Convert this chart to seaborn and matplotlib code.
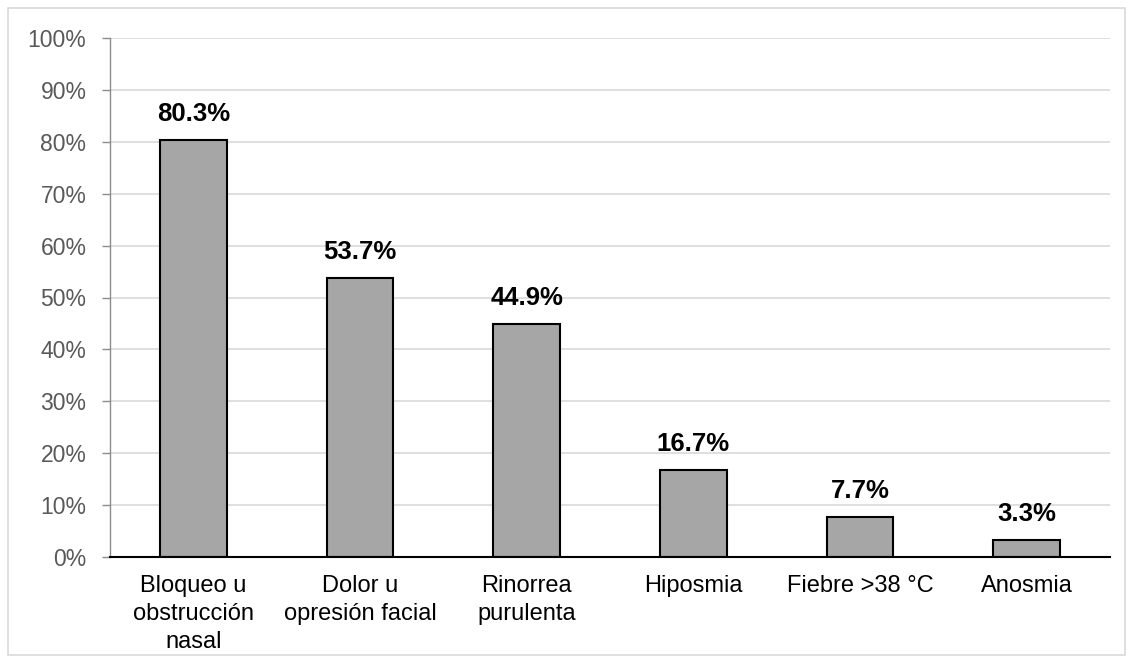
import matplotlib
matplotlib.use("Agg")
import matplotlib.pyplot as plt
import matplotlib.patches as patches
import numpy as np
import pandas as pd
import seaborn as sns

categories = [
    "Bloqueo u\nobstrucción\nnasal",
    "Dolor u\nopresión facial",
    "Rinorrea\npurulenta",
    "Hiposmia",
    "Fiebre >38 °C",
    "Anosmia",
]
values = [80.3, 53.7, 44.9, 16.7, 7.7, 3.3]
yticks = list(range(0, 101, 10))

sns.set_theme(style="white")
plt.rcParams["font.family"] = ["Liberation Sans", "DejaVu Sans"]

df = pd.DataFrame({"sintoma": categories, "pct": values})

fig = plt.figure(figsize=(11.33, 6.63), dpi=100)
ax = fig.add_axes([110 / 1133, 1 - 557 / 663, 1000 / 1133, (557 - 38) / 663])

sns.barplot(
    data=df,
    x="sintoma",
    y="pct",
    color="#a6a6a6",
    saturation=1,
    edgecolor="black",
    linewidth=1.5,
    width=0.4,
    ax=ax,
)

for container in ax.containers:
    ax.bar_label(
        container,
        labels=[f"{v:.1f}%" for v in values],
        padding=10,
        fontsize=18.5,
        fontweight="bold",
        color="black",
    )

ax.set_ylim(0, 100)
ax.set_xlim(-0.5, len(categories) - 0.5)
ax.set_yticks(yticks)
ax.set_yticklabels([f"{t}%" for t in yticks], fontsize=16.5, color="#595959")
ax.yaxis.grid(True, color="#d9d9d9", linewidth=1.2)
ax.set_axisbelow(True)

ax.set_xticks(range(len(categories)))
ax.set_xticklabels(categories, fontsize=17, color="black", linespacing=1.35, va="top")
ax.set_xticks(np.arange(-0.5, len(categories)), minor=True)
ax.tick_params(axis="x", which="major", length=0, pad=13)
ax.tick_params(axis="x", which="minor", length=7, width=1.2, color="black", direction="out")
ax.tick_params(axis="y", length=6, width=1, color="#8c8c8c", left=True, pad=11)

ax.set_xlabel("")
ax.set_ylabel("")

for side in ["top", "right"]:
    ax.spines[side].set_visible(False)
ax.spines["left"].set_color("#8c8c8c")
ax.spines["left"].set_linewidth(1)
ax.spines["bottom"].set_color("black")
ax.spines["bottom"].set_linewidth(1.5)

border = patches.Rectangle(
    (8 / 1133, 8 / 663), 1 - 16 / 1133, 1 - 16 / 663,
    transform=fig.transFigure, fill=False, edgecolor="#d9d9d9", linewidth=1.2,
)
fig.patches.append(border)

fig.savefig("out.png", dpi=100)
